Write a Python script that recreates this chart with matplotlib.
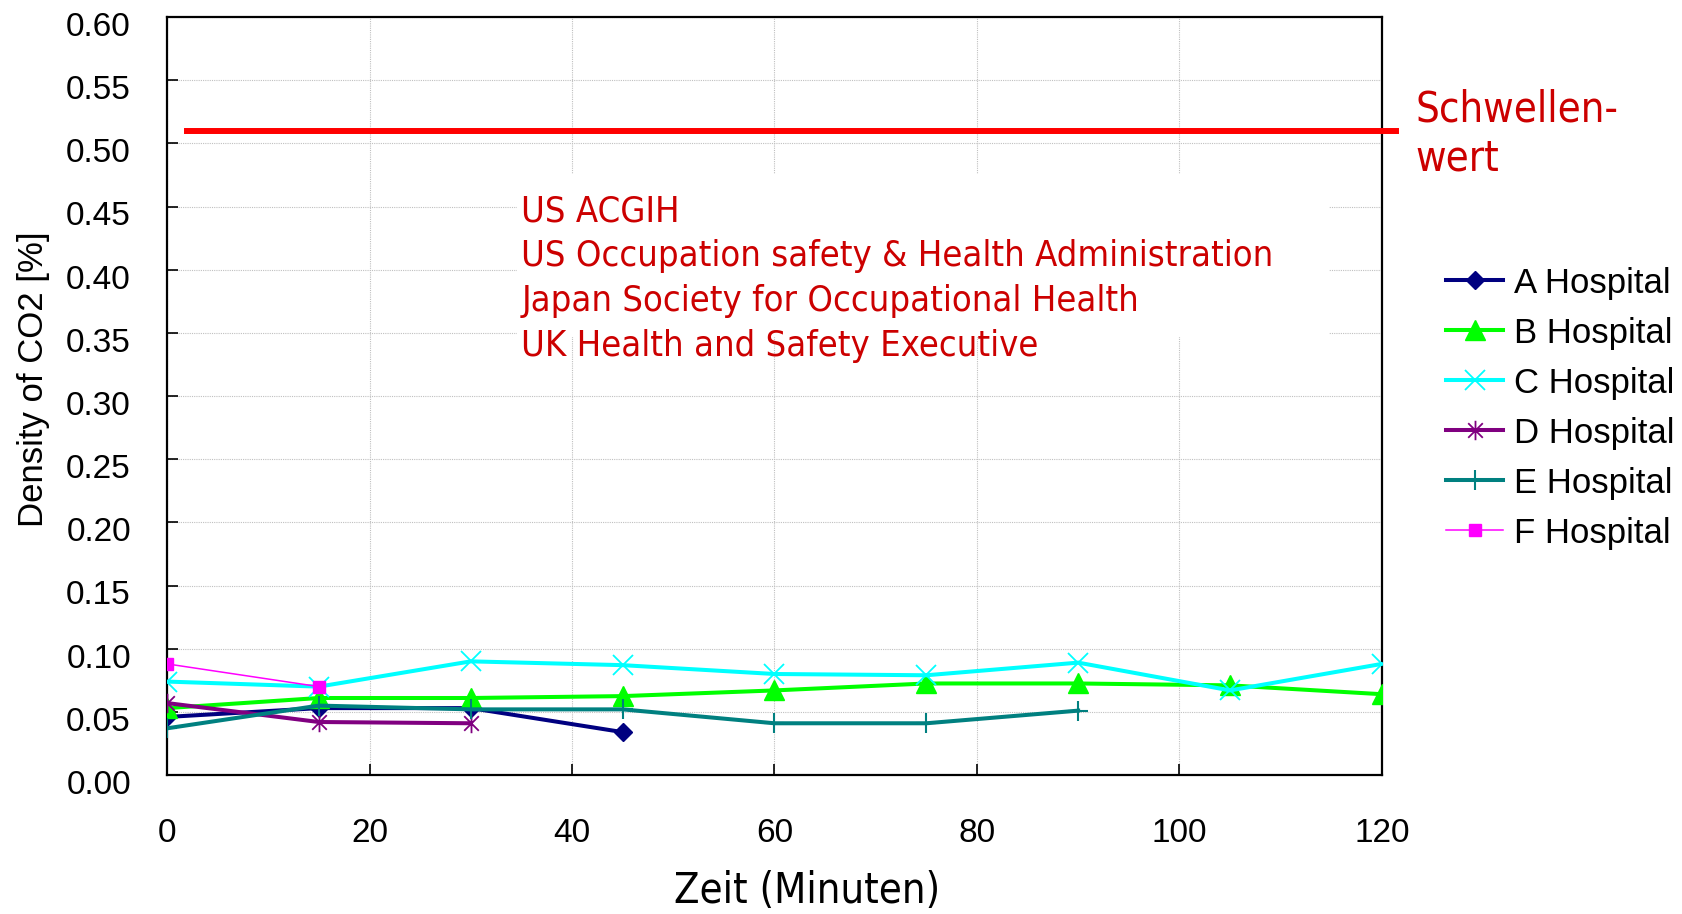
import matplotlib
matplotlib.use("Agg")
import matplotlib.pyplot as plt
from matplotlib.patches import Rectangle
from matplotlib.path import Path
from matplotlib.transforms import ScaledTranslation

# CO2 readings per hospital, sampled every 15 minutes
minutes = [0, 15, 30, 45, 60, 75, 90, 105, 120]
a_hosp = [0.046, 0.053, 0.053, 0.034]
b_hosp = [0.053, 0.061, 0.061, 0.0625, 0.067, 0.0725, 0.0725, 0.071, 0.064]
c_hosp = [0.074, 0.070, 0.090, 0.087, 0.080, 0.079, 0.089, 0.067, 0.088]
d_hosp = [0.057, 0.042, 0.041]
e_hosp = [0.037, 0.055, 0.052, 0.052, 0.041, 0.041, 0.051]
f_hosp = [0.088, 0.070]
labels = ["A Hospital", "B Hospital", "C Hospital",
          "D Hospital", "E Hospital", "F Hospital"]

threshold = 0.51
threshold_span = [2, 121.4]
agencies = ["US ACGIH",
            "US Occupation safety & Health Administration",
            "Japan Society for Occupational Health",
            "UK Health and Safety Executive"]

# star marker: an X crossed by a vertical bar
star = Path([(0, -1), (0, 1), (-0.75, -0.75), (0.75, 0.75),
             (-0.75, 0.75), (0.75, -0.75)],
            [Path.MOVETO, Path.LINETO] * 3)

series = [a_hosp, b_hosp, c_hosp, d_hosp, e_hosp, f_hosp]
styles = [
    dict(color="#000080", marker="D", ms=9, lw=2.9),
    dict(color="#00FF00", marker="^", ms=14, lw=2.9),
    dict(color="#00FFFF", marker="x", ms=14, lw=2.9, mew=1.3),
    dict(color="#800080", marker=star, ms=14, lw=2.9, mew=1.3),
    dict(color="#008080", marker="+", ms=14, lw=2.9, mew=1.5),
    dict(color="#FF00FF", marker="s", ms=8, lw=1.1),
]

red = "#CC0000"
tahoma = dict(family="DejaVu Sans", stretch="condensed")

plt.rcParams["font.family"] = ["Liberation Sans", "DejaVu Sans"]

fig = plt.figure(figsize=(16.82, 9.14), dpi=100)
ax = fig.add_axes([0.0993, 0.152, 0.7223, 0.8294])

for vals, lab, st in zip(series, labels, styles):
    ax.plot(minutes[:len(vals)], vals, label=lab, zorder=3, **st)

ax.plot(threshold_span, [threshold, threshold], color="#FF0000", lw=4.3,
        clip_on=False, zorder=4)

# white panel behind the agency list
ax.add_patch(Rectangle((34.6, 0.3465), 80.2, 0.129, facecolor="white",
                       edgecolor="none", zorder=1.8))
for i, line in enumerate(agencies):
    ax.text(35, 0.4385 - i * 0.0357, line, color=red, fontsize=26,
            va="baseline", ha="left", zorder=5, **tahoma)

for i, line in enumerate(["Schwellen-", "wert"]):
    ax.text(123.3, 0.5169 - i * 0.0385, line, color=red, fontsize=30,
            va="baseline", ha="left", clip_on=False, **tahoma)

ax.set_xlim(0, 120)
ax.set_ylim(0, 0.60)
ax.set_xticks(range(0, 121, 20))
ax.set_yticks([i * 0.05 for i in range(13)])
ax.yaxis.set_major_formatter(matplotlib.ticker.FormatStrFormatter("%.2f"))
ax.tick_params(direction="in", length=8, width=1.2, labelsize=24,
               top=False, right=False)
ax.tick_params(axis="y", pad=26)
ax.tick_params(axis="x", pad=31)
ax.grid(True, color="#C0C0C0", linestyle=(0, (1, 1)), linewidth=0.8)
for sp in ax.spines.values():
    sp.set_linewidth(1.6)
    sp.set_color("black")

# y tick labels sit a little below their ticks
shift = ScaledTranslation(0, -5 / 72, fig.dpi_scale_trans)
for lbl in ax.get_yticklabels():
    lbl.set_transform(lbl.get_transform() + shift)

ax.set_xlabel("Zeit (Minuten)", fontsize=30, **tahoma)
ax.xaxis.set_label_coords(0.527, -0.125)
ax.set_ylabel("Density of CO2 [%]", fontsize=25)
ax.yaxis.set_label_coords(-0.096, 0.522)

fig.legend(loc="center left", bbox_to_anchor=(0.8597, 0.5535), frameon=False,
           fontsize=25, handlelength=1.65, handletextpad=0.3, labelspacing=0.49,
           borderpad=0, borderaxespad=0)

fig.savefig("out.png", dpi=100)
